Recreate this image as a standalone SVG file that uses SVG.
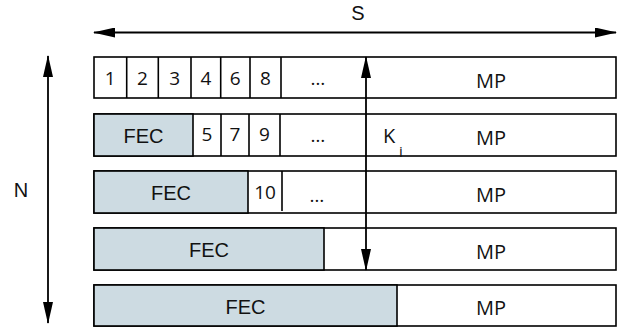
<svg xmlns="http://www.w3.org/2000/svg" width="625" height="329" viewBox="0 0 625 329">
<style>
.box{fill:#fff;stroke:#000;stroke-width:1.6}
.fec{fill:#cddbe2;stroke:#000;stroke-width:1.6}
.div{stroke:#000;stroke-width:1.6}
.ar{stroke:#000;stroke-width:1.8;fill:none}
.a{font-family:"Liberation Sans",Arial,sans-serif;font-size:20px;fill:#111;text-anchor:middle}
.o{font-family:"Open Sans","Liberation Sans",sans-serif;font-size:20px;fill:#111;text-anchor:middle}
.d{font-family:"Open Sans","Liberation Sans",sans-serif;font-size:19px;fill:#111;text-anchor:middle}
</style>
<defs>
<marker id="ah" markerUnits="userSpaceOnUse" markerWidth="22" markerHeight="10" viewBox="0 0 22 10" refX="21" refY="5" orient="auto-start-reverse">
<path d="M0,0 L22,5 L0,10 Z" fill="#000"/>
</marker>
</defs>
<g id="row1">
<rect class="box" x="94" y="57" width="522" height="41"/>
<line class="div" x1="126.7" y1="57" x2="126.7" y2="98"/>
<line class="div" x1="158.3" y1="57" x2="158.3" y2="98"/>
<line class="div" x1="191" y1="57" x2="191" y2="98"/>
<line class="div" x1="220.7" y1="57" x2="220.7" y2="98"/>
<line class="div" x1="250" y1="57" x2="250" y2="98"/>
<line class="div" x1="281" y1="57" x2="281" y2="98"/>
<text class="d" x="110.3" y="84.5">1</text>
<text class="d" x="142.5" y="84.5">2</text>
<text class="d" x="174.6" y="84.5">3</text>
<text class="d" x="206" y="84.5">4</text>
<text class="d" x="235.3" y="84.5">6</text>
<text class="d" x="265.5" y="84.5">8</text>
<text class="d" x="318" y="85">…</text>
<text class="o" x="491" y="88">MP</text>
</g>
<g id="row2">
<rect class="box" x="94" y="114" width="522" height="42"/>
<rect class="fec" x="94" y="114" width="99" height="42"/>
<line class="div" x1="221" y1="114" x2="221" y2="156"/>
<line class="div" x1="249" y1="114" x2="249" y2="156"/>
<line class="div" x1="280" y1="114" x2="280" y2="156"/>
<text class="a" x="143.5" y="143.3">FEC</text>
<text class="d" x="207" y="140.5">5</text>
<text class="d" x="235" y="140.5">7</text>
<text class="d" x="264.5" y="140.5">9</text>
<text class="d" x="318" y="142">…</text>
<text class="o" x="491" y="144.5">MP</text>
</g>
<g id="row3">
<rect class="box" x="94" y="171" width="522" height="42"/>
<rect class="fec" x="94" y="171" width="154" height="42"/>
<line class="div" x1="282" y1="171" x2="282" y2="211"/>
<text class="a" x="171" y="200">FEC</text>
<text class="d" x="265" y="198.5">10</text>
<text class="d" x="317" y="202">…</text>
<text class="o" x="491" y="201.5">MP</text>
</g>
<g id="row4">
<rect class="box" x="94" y="228" width="522" height="42"/>
<rect class="fec" x="94" y="228" width="230" height="42"/>
<text class="a" x="209" y="257">FEC</text>
<text class="o" x="491" y="258.5">MP</text>
</g>
<g id="row5">
<rect class="box" x="94" y="285" width="522" height="41"/>
<rect class="fec" x="94" y="285" width="303" height="41"/>
<text class="a" x="245.5" y="314">FEC</text>
<text class="o" x="491" y="315">MP</text>
</g>
<g id="connectors">
<line class="ar" x1="94" y1="32.5" x2="616" y2="32.5" marker-start="url(#ah)" marker-end="url(#ah)"/>
<line class="ar" x1="48" y1="56" x2="48" y2="323" marker-start="url(#ah)" marker-end="url(#ah)"/>
<line class="ar" x1="366" y1="57" x2="366" y2="270" marker-start="url(#ah)" marker-end="url(#ah)"/>
</g>
<g id="labels">
<text class="a" x="358" y="20">S</text>
<text class="a" x="21" y="197">N</text>
<text class="o" x="383" y="143" style="text-anchor:start">K</text>
<text class="o" x="401" y="157" style="font-size:15px">i</text>
</g>
</svg>
